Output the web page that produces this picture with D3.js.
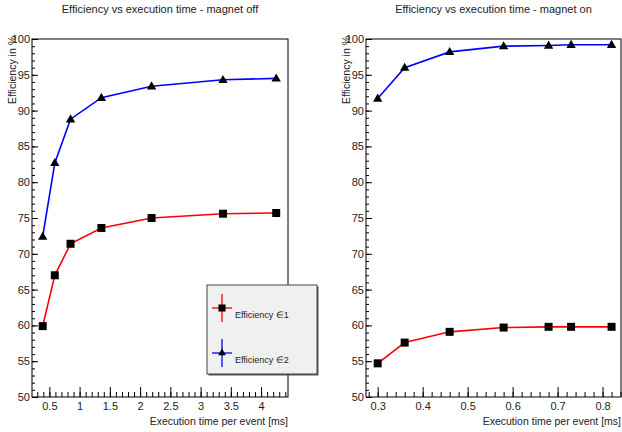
<!DOCTYPE html>
<html>
<head>
<meta charset="utf-8">
<script src="https://cdn.jsdelivr.net/npm/d3@7"></script>
<style>
  body { margin: 0; background: #fff; }
  svg { display: block; font-family: "Liberation Sans", Arial, sans-serif; }
  .tick text { fill: #222; }
</style>
</head>
<body>
<div id="chart"></div>
<script>
// execution time per event [ms] and efficiencies [%]
var timeOff = [0.39, 0.59, 0.85, 1.36, 2.19, 3.37, 4.25];
var eff1Off = [59.9, 67.0, 71.4, 73.6, 75.0, 75.6, 75.7];
var eff2Off = [72.4, 82.7, 88.8, 91.8, 93.4, 94.3, 94.5];

var timeOn = [0.30, 0.36, 0.46, 0.58, 0.68, 0.73, 0.82];
var eff1On = [54.7, 57.6, 59.1, 59.7, 59.8, 59.8, 59.8];
var eff2On = [91.7, 96.0, 98.2, 99.0, 99.1, 99.2, 99.2];

var yTicks = [50, 55, 60, 65, 70, 75, 80, 85, 90, 95, 100];
var xTicksOff = [0.5, 1, 1.5, 2, 2.5, 3, 3.5, 4];
var xTicksOn = [0.3, 0.4, 0.5, 0.6, 0.7, 0.8];

var legendLabels = ['Efficiency \u22081', 'Efficiency \u22082'];

var width = 622, height = 432;

var svg = d3.select('#chart')
  .append('svg')
  .attr('width', width)
  .attr('height', height);

function drawPanel(opt) {
  var g = svg.append('g');

  var xScale = d3.scaleLinear().domain(opt.xDomain).range([opt.x0, opt.x1]);
  var yScale = d3.scaleLinear().domain([50, 100]).range([opt.y1, opt.y0]);

  // title
  g.append('text')
    .attr('x', (opt.x0 + opt.x1) / 2)
    .attr('y', 13)
    .attr('text-anchor', 'middle')
    .style('font-size', '11px')
    .style('fill', '#222')
    .text(opt.title);

  // minor y ticks
  g.append('g')
    .attr('transform', 'translate(' + opt.x0 + ',0)')
    .call(d3.axisLeft(yScale).tickValues(d3.range(50, 100.5, 1)).tickSize(-3).tickFormat(''))
    .call(function (a) { a.select('.domain').remove(); });

  // major y ticks
  var yAxis = g.append('g')
    .attr('transform', 'translate(' + opt.x0 + ',0)')
    .call(d3.axisLeft(yScale).tickValues(yTicks).tickSize(-6).tickPadding(2));
  yAxis.select('.domain').remove();
  yAxis.selectAll('text').style('font-size', '11px').attr('fill', '#222');
  yAxis.selectAll('line').attr('stroke', '#000');

  // minor x ticks
  g.append('g')
    .attr('transform', 'translate(0,' + opt.y1 + ')')
    .call(d3.axisBottom(xScale).tickValues(opt.xMinor).tickSize(-5).tickFormat(''))
    .call(function (a) { a.select('.domain').remove(); });

  // major x ticks
  var xAxis = g.append('g')
    .attr('transform', 'translate(0,' + opt.y1 + ')')
    .call(d3.axisBottom(xScale).tickValues(opt.xTicks).tickSize(-10).tickPadding(5)
      .tickFormat(function (d) { return String(d); }));
  xAxis.select('.domain').remove();
  xAxis.selectAll('text').style('font-size', '11px').attr('fill', '#222');

  // frame
  g.append('rect')
    .attr('x', opt.x0)
    .attr('y', opt.y0)
    .attr('width', opt.x1 - opt.x0)
    .attr('height', opt.y1 - opt.y0)
    .attr('fill', 'none')
    .attr('stroke', '#000')
    .attr('stroke-width', 1);

  // axis titles
  g.append('text')
    .attr('x', opt.x1)
    .attr('y', 425)
    .attr('text-anchor', 'end')
    .style('font-size', '10.5px')
    .style('fill', '#222')
    .text('Execution time per event [ms]');

  g.append('text')
    .attr('transform', 'translate(' + (opt.x0 - 16) + ',' + (opt.y0 - 3) + ') rotate(-90)')
    .attr('text-anchor', 'end')
    .style('font-size', '10.5px')
    .style('fill', '#222')
    .text('Efficiency in %');

  var line = d3.line()
    .x(function (d) { return xScale(d[0]); })
    .y(function (d) { return yScale(d[1]); });

  var pts1 = opt.time.map(function (t, i) { return [t, opt.eff1[i]]; });
  var pts2 = opt.time.map(function (t, i) { return [t, opt.eff2[i]]; });

  g.append('path').attr('d', line(pts1)).attr('fill', 'none')
    .attr('stroke', '#ff0000').attr('stroke-width', 1.6);
  g.append('path').attr('d', line(pts2)).attr('fill', 'none')
    .attr('stroke', '#0000ff').attr('stroke-width', 1.6);

  var square = d3.symbol().type(d3.symbolSquare).size(64);
  var triangle = d3.symbol().type(d3.symbolTriangle).size(38);

  g.selectAll('.sq')
    .data(pts1)
    .enter()
    .append('path')
    .attr('d', square)
    .attr('transform', function (d) { return 'translate(' + xScale(d[0]) + ',' + yScale(d[1]) + ')'; })
    .attr('fill', '#000');

  g.selectAll('.tri')
    .data(pts2)
    .enter()
    .append('path')
    .attr('d', triangle)
    .attr('transform', function (d) { return 'translate(' + xScale(d[0]) + ',' + (yScale(d[1]) + 0.5) + ')'; })
    .attr('fill', '#000');
}

drawPanel({
  title: 'Efficiency vs execution time - magnet off',
  x0: 32, x1: 288, y0: 39, y1: 397,
  xDomain: [0.213, 4.445],
  xTicks: xTicksOff,
  xMinor: d3.range(0.3, 4.45, 0.1),
  time: timeOff, eff1: eff1Off, eff2: eff2Off
});

drawPanel({
  title: 'Efficiency vs execution time - magnet on',
  x0: 366, x1: 621, y0: 39, y1: 397,
  xDomain: [0.274, 0.841],
  xTicks: xTicksOn,
  xMinor: d3.range(0.28, 0.845, 0.02),
  time: timeOn, eff1: eff1On, eff2: eff2On
});

// legend
function drawLegend() {
  var lg = svg.append('g');
  var bx = 207, by = 285, bw = 110, bh = 89;
  lg.append('rect')
    .attr('x', bx + 1.5).attr('y', by + 1.5)
    .attr('width', bw).attr('height', bh)
    .attr('fill', '#555');
  lg.append('rect')
    .attr('x', bx).attr('y', by)
    .attr('width', bw).attr('height', bh)
    .attr('fill', '#f0f0f0')
    .attr('stroke', '#444')
    .attr('stroke-width', 1);

  var colors = ['#ff0000', '#0000ff'];
  var rows = [308, 353];
  var mx = 222;
  rows.forEach(function (ry, i) {
    lg.append('line').attr('x1', mx - 10).attr('x2', mx + 10).attr('y1', ry).attr('y2', ry)
      .attr('stroke', colors[i]).attr('stroke-width', 1.3);
    lg.append('line').attr('x1', mx).attr('x2', mx).attr('y1', ry - 14).attr('y2', ry + 14)
      .attr('stroke', colors[i]).attr('stroke-width', 1.3);
    var sym = i === 0 ? d3.symbol().type(d3.symbolSquare).size(50)
                      : d3.symbol().type(d3.symbolTriangle).size(26);
    lg.append('path')
      .attr('d', sym)
      .attr('transform', 'translate(' + mx + ',' + ry + ')')
      .attr('fill', '#000');
    lg.append('text')
      .attr('x', 235)
      .attr('y', ry + 10)
      .style('font-size', '9px')
      .style('fill', '#222')
      .text(legendLabels[i]);
  });
}
drawLegend();
</script>
</body>
</html>
